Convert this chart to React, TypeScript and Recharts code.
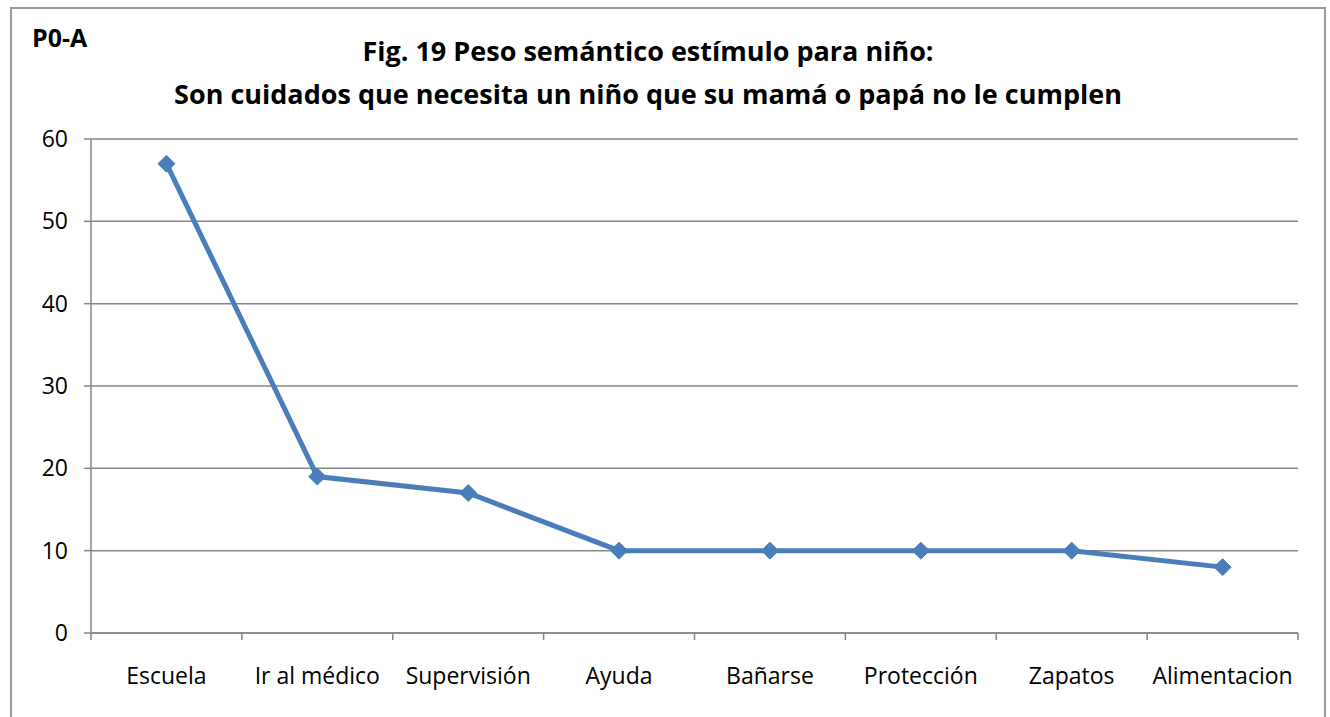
import { CartesianGrid, Line, LineChart, XAxis, YAxis } from 'recharts';

const categories = [
  'Escuela',
  'Ir al médico',
  'Supervisión',
  'Ayuda',
  'Bañarse',
  'Protección',
  'Zapatos',
  'Alimentacion',
];
const pesoValues = [57, 19, 17, 10, 10, 10, 10, 8];
const yTicks = [0, 10, 20, 30, 40, 50, 60];

const data = categories.map((name, i) => ({ name, peso: pesoValues[i] }));

const WIDTH = 1330;
const HEIGHT = 717;
const MARGIN = { top: 139, right: 32, bottom: 34, left: 0 };
const Y_AXIS_WIDTH = 91;
const PLOT_WIDTH = WIDTH - MARGIN.left - MARGIN.right - Y_AXIS_WIDTH;
const BAND = PLOT_WIDTH / categories.length;

const FONT = '"Open Sans", Lato, sans-serif';
const AXIS_GRAY = '#868686';
const LINE_BLUE = '#4a7ebb';

function CategoryTick(props: any) {
  const { x, y, payload, index } = props;
  const left = x - BAND / 2;
  const isLast = index === categories.length - 1;
  return (
    <g>
      <line x1={left} y1={y} x2={left} y2={y + 7} stroke={AXIS_GRAY} strokeWidth={1.5} />
      {isLast && (
        <line x1={x + BAND / 2} y1={y} x2={x + BAND / 2} y2={y + 7} stroke={AXIS_GRAY} strokeWidth={1.5} />
      )}
      <text x={x} y={y + 51} textAnchor="middle" fontSize={23} fontFamily={FONT} fill="#000">
        {payload.value}
      </text>
    </g>
  );
}

function Diamond(props: any) {
  const { cx, cy } = props;
  if (cx == null || cy == null) return null;
  const r = 8.5;
  return (
    <polygon
      points={`${cx},${cy - r} ${cx + r},${cy} ${cx},${cy + r} ${cx - r},${cy}`}
      fill={LINE_BLUE}
      stroke={LINE_BLUE}
      strokeWidth={1}
    />
  );
}

export default function App() {
  return (
    <div style={{ position: 'absolute', left: 0, top: 0, width: WIDTH, height: HEIGHT, background: '#fff', overflow: 'hidden' }}>
      <div
        style={{
          position: 'absolute',
          left: 10,
          top: 7,
          width: 1312,
          height: 730,
          border: '2px solid #9a9a9a',
        }}
      />
      <div
        style={{
          position: 'absolute',
          left: 32,
          top: 22,
          fontFamily: FONT,
          fontWeight: 700,
          fontSize: 25,
          lineHeight: '30px',
          color: '#000',
        }}
      >
        P0-A
      </div>
      <div
        style={{
          position: 'absolute',
          left: 0,
          top: 29,
          width: 1296,
          textAlign: 'center',
          fontFamily: FONT,
          fontWeight: 700,
          fontSize: 27,
          lineHeight: '43px',
          color: '#000',
        }}
      >
        Fig. 19 Peso semántico estímulo para niño:
        <br />
        Son cuidados que necesita un niño que su mamá o papá no le cumplen
      </div>
      <div style={{ position: 'absolute', left: 0, top: 0 }}>
        <LineChart width={WIDTH} height={HEIGHT} data={data} margin={MARGIN}>
          <CartesianGrid vertical={false} stroke={AXIS_GRAY} strokeWidth={1.5} />
          <XAxis
            dataKey="name"
            scale="band"
            stroke={AXIS_GRAY}
            strokeWidth={1.5}
            tickLine={false}
            tickSize={0}
            tickMargin={0}
            tick={<CategoryTick />}
            interval={0}
            height={50}
          />
          <YAxis
            domain={[0, 60]}
            ticks={yTicks}
            width={Y_AXIS_WIDTH}
            stroke={AXIS_GRAY}
            strokeWidth={1.5}
            tickSize={7}
            tickMargin={16}
            tick={{ fill: '#000', fontSize: 23, fontFamily: FONT }}
            interval={0}
          />
          <Line
            type="linear"
            dataKey="peso"
            stroke={LINE_BLUE}
            strokeWidth={5}
            dot={<Diamond />}
            activeDot={false}
            isAnimationActive={false}
          />
        </LineChart>
      </div>
    </div>
  );
}
